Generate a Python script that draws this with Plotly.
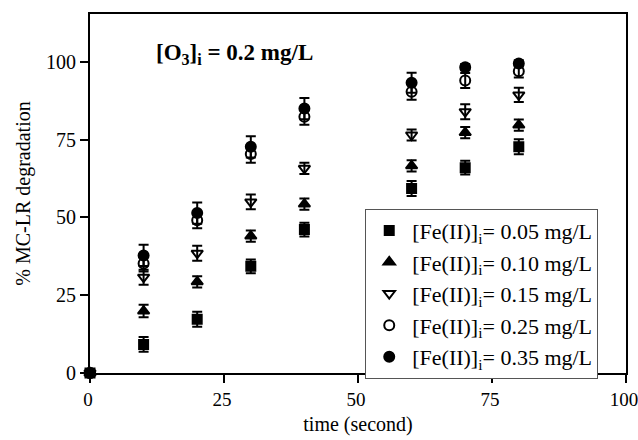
import plotly.graph_objects as go

time_s = [0, 10, 20, 30, 40, 60, 70, 80]

fe_005 = [0, 9.2, 17.3, 34.3, 46.1, 59.3, 66.0, 72.7]
fe_010 = [0, 19.9, 29.3, 44.0, 54.3, 66.6, 77.3, 79.7]
fe_015 = [0, 30.8, 38.5, 55.0, 65.8, 76.5, 84.0, 89.4]
fe_025 = [0, 35.2, 49.1, 70.4, 82.4, 90.4, 94.0, 97.0]
fe_035 = [0, 37.8, 51.4, 72.7, 85.0, 93.3, 98.3, 99.5]

err_005 = [0, 2.4, 2.4, 2.2, 2.2, 2.4, 2.2, 2.4]
err_010 = [0, 2.0, 1.8, 1.8, 1.8, 1.8, 1.8, 1.8]
err_015 = [0, 2.4, 2.4, 2.4, 1.8, 1.8, 2.4, 2.3]
err_025 = [0, 2.6, 2.6, 2.8, 2.6, 2.6, 2.4, 2.0]
err_035 = [0, 3.4, 3.4, 3.4, 3.4, 3.2, 1.0, 1.0]

labels = [
    "[Fe(II)]<sub>i</sub>= 0.05 mg/L",
    "[Fe(II)]<sub>i</sub>= 0.10 mg/L",
    "[Fe(II)]<sub>i</sub>= 0.15 mg/L",
    "[Fe(II)]<sub>i</sub>= 0.25 mg/L",
    "[Fe(II)]<sub>i</sub>= 0.35 mg/L",
]
series = [fe_005, fe_010, fe_015, fe_025, fe_035]
errors = [err_005, err_010, err_015, err_025, err_035]
symbols = ["square", "triangle-up", "triangle-down-open", "circle-open", "circle"]
sizes = [9, 10, 10, 10, 10]

FONT = "Liberation Serif, Times New Roman, serif"

fig = go.Figure()
for i, (lab, ys, es, sym, sz) in enumerate(zip(labels, series, errors, symbols, sizes)):
    fig.add_trace(go.Scatter(
        x=time_s, y=ys, mode="markers", name=lab,
        marker=dict(symbol=sym, size=sz, color="black", line=dict(color="black", width=2)),
        error_y=dict(type="data", array=es, visible=True, color="black", thickness=2, width=5),
        cliponaxis=False,
    ))

fig.add_annotation(
    text="<b>[O<sub>3</sub>]<sub>i</sub> = 0.2 mg/L</b>",
    xref="paper", yref="paper", x=0.12, y=0.889, xanchor="left", yanchor="middle",
    showarrow=False, font=dict(family=FONT, size=23, color="black"),
)

fig.update_layout(
    width=638, height=440,
    margin=dict(l=89.5, r=12, t=14, b=67),
    paper_bgcolor="white", plot_bgcolor="white",
    font=dict(family=FONT, size=20, color="black"),
    showlegend=True,
    legend=dict(
        x=0.5135, y=0.458, xanchor="left", yanchor="top",
        bordercolor="#555", borderwidth=1, bgcolor="white",
        font=dict(family=FONT, size=22, color="black"),
        itemwidth=36,
    ),
    xaxis=dict(
        range=[0, 100], tickvals=[0, 25, 50, 75, 100],
        ticks="outside", ticklen=8, tickwidth=2, tickcolor="black",
        showline=True, linewidth=2, linecolor="black", mirror=True,
        showgrid=False, zeroline=False, automargin=False,
        ticklabeloverflow="allow", ticklabelshift=-2,
        title=dict(text="time (second)", font=dict(family=FONT, size=20), standoff=8),
        tickfont=dict(family=FONT, size=19),
    ),
    yaxis=dict(
        range=[0, 115.4], tickvals=[0, 25, 50, 75, 100],
        ticks="outside", ticklen=8, tickwidth=2, tickcolor="black",
        showline=True, linewidth=2, linecolor="black", mirror=True,
        showgrid=False, zeroline=False, automargin=False,
        title=dict(text="% MC-LR degradation", font=dict(family=FONT, size=20), standoff=10),
        tickfont=dict(family=FONT, size=20),
    ),
)

fig.write_html("out.html", config={"displayModeBar": False},
               post_script="document.body.style.margin='0';")
